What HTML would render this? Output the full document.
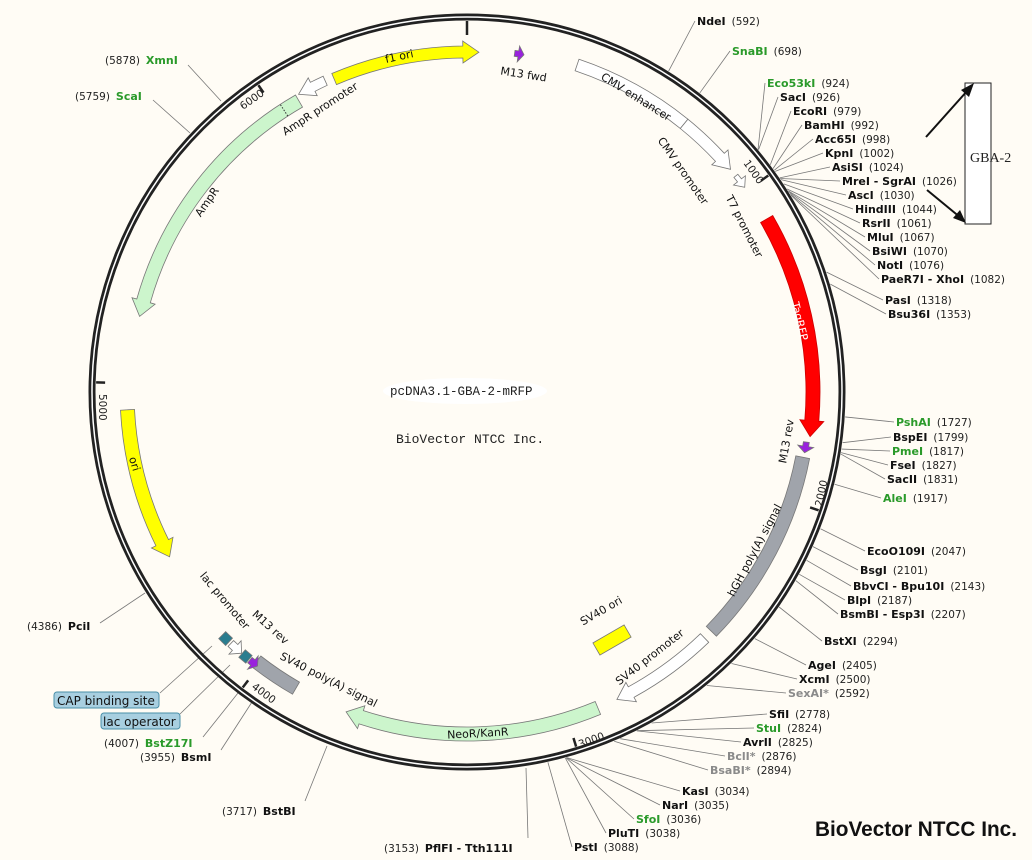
<!DOCTYPE html>
<html><head><meta charset="utf-8"><style>
html,body{margin:0;padding:0;background:#fffcf5;}
svg{display:block;}
.f{font-family:"DejaVu Sans","Liberation Sans",sans-serif;font-size:11px;fill:#111;}
.n{font-family:"DejaVu Sans","Liberation Sans",sans-serif;font-size:11px;font-weight:bold;fill:#111;}
.g{fill:#2a9a2a;}
.gy{fill:#8a8a8a;}
.p{font-family:"DejaVu Sans","Liberation Sans",sans-serif;font-size:10.5px;fill:#222;}
.fl{font-family:"DejaVu Sans","Liberation Sans",sans-serif;font-size:11px;fill:#111;}
</style></head><body>
<svg id="s" width="1032" height="860" viewBox="0 0 1032 860" xmlns="http://www.w3.org/2000/svg">
<rect width="1032" height="860" fill="#fffcf5"/>
<g id="lines" stroke="#777" stroke-width="0.8" fill="none">
<line x1="188" y1="65" x2="221" y2="101"/>
<line x1="153" y1="100" x2="190" y2="133"/>
<line x1="100" y1="623" x2="145" y2="593"/>
<line x1="203" y1="737" x2="238" y2="693"/>
<line x1="221" y1="750" x2="252" y2="702"/>
<line x1="305" y1="801" x2="327" y2="746"/>
<line x1="528" y1="838" x2="526" y2="768"/>
<line x1="160" y1="693" x2="212" y2="646"/>
<line x1="180" y1="714" x2="230" y2="665"/>
</g>
<g id="feat"></g>
<circle cx="467" cy="392" r="375" fill="none" stroke="#222" stroke-width="7"/>
<circle cx="467" cy="392" r="375" fill="none" stroke="#fff" stroke-width="1.5"/>
<g id="ticks" stroke="#222" stroke-width="2.5"></g>

<rect x="965" y="83" width="26" height="141" fill="#fff" stroke="#222" stroke-width="1"/>
<text x="970" y="162" font-family="Liberation Serif,serif" font-size="14" fill="#222">GBA-2</text>
<line x1="926" y1="137" x2="968" y2="90" stroke="#111" stroke-width="2"/>
<polygon points="974,83 961,90 969,97" fill="#111"/>
<line x1="927" y1="190" x2="961" y2="218" stroke="#111" stroke-width="2"/>
<polygon points="966,223 953,218 960,210" fill="#111"/>

<ellipse cx="465" cy="391" rx="82" ry="13" fill="#fff"/>
<text x="390" y="395" font-family="Liberation Mono,monospace" font-size="12.5" fill="#222">pcDNA3.1-GBA-2-mRFP</text>
<text x="396" y="443" font-family="Liberation Mono,monospace" font-size="13" fill="#222">BioVector NTCC Inc.</text>
<text x="815" y="836" font-family="Liberation Sans,sans-serif" font-size="21" font-weight="bold" fill="#111" textLength="202" lengthAdjust="spacingAndGlyphs">BioVector NTCC Inc.</text>

<text class="fl" transform="translate(400,60) rotate(-12)" text-anchor="middle">f1 ori</text>
<text class="fl" transform="translate(523,78) rotate(9)" text-anchor="middle">M13 fwd</text>
<text class="fl" transform="translate(322,112) rotate(-33)" text-anchor="middle">AmpR promoter</text>
<text class="fl" transform="translate(210,204) rotate(-55)" text-anchor="middle">AmpR</text>
<text class="fl" transform="translate(131,465) rotate(73)" text-anchor="middle">ori</text>
<text class="fl" transform="translate(634,100) rotate(32)" text-anchor="middle">CMV enhancer</text>
<text class="fl" transform="translate(680,173) rotate(55)" text-anchor="middle">CMV promoter</text>
<text class="fl" transform="translate(741,228) rotate(63)" text-anchor="middle">T7 promoter</text>
<text class="fl" transform="translate(796,322) rotate(76)" text-anchor="middle" style="fill:#fff">TagRFP</text>
<text class="fl" transform="translate(790,442) rotate(-80)" text-anchor="middle">M13 rev</text>
<text class="fl" transform="translate(758,552) rotate(-62)" text-anchor="middle">hGH poly(A) signal</text>
<text class="fl" transform="translate(603,614) rotate(-30)" text-anchor="middle">SV40 ori</text>
<text class="fl" transform="translate(652,660) rotate(-38)" text-anchor="middle">SV40 promoter</text>
<text class="fl" transform="translate(478,737) rotate(-3)" text-anchor="middle">NeoR/KanR</text>
<text class="fl" transform="translate(327,683) rotate(27)" text-anchor="middle">SV40 poly(A) signal</text>
<text class="fl" transform="translate(222,603) rotate(50)" text-anchor="middle">lac promoter</text>
<text class="fl" transform="translate(268,630) rotate(42)" text-anchor="middle">M13 rev</text>
<text class="p" transform="translate(251,688) rotate(37)" >4000</text>
<text class="p" transform="translate(580,748) rotate(-20)" >3000</text>
<text class="p" transform="translate(822,507) rotate(-78)" >2000</text>
<text class="p" transform="translate(743,163) rotate(55)" >1000</text>
<text class="p" transform="translate(99,394) rotate(90)" >5000</text>
<text class="p" transform="translate(243,110) rotate(-35)" >6000</text>

<rect x="54" y="692" width="105" height="16" rx="3" fill="#a8cfe0" stroke="#4a8fa8"/>
<text class="f" x="57" y="705" style="font-size:12px">CAP binding site</text>
<rect x="101" y="713" width="79" height="16" rx="3" fill="#a8cfe0" stroke="#4a8fa8"/>
<text class="f" x="103" y="726" style="font-size:12px">lac operator</text>

<text x="105" y="64"><tspan class="p">(5878)</tspan><tspan class="n g" dx="6">XmnI</tspan></text>
<text x="75" y="100"><tspan class="p">(5759)</tspan><tspan class="n g" dx="6">ScaI</tspan></text>
<text x="27" y="630"><tspan class="p">(4386)</tspan><tspan class="n" dx="6">PciI</tspan></text>
<text x="104" y="747"><tspan class="p">(4007)</tspan><tspan class="n g" dx="6">BstZ17I</tspan></text>
<text x="140" y="761"><tspan class="p">(3955)</tspan><tspan class="n" dx="6">BsmI</tspan></text>
<text x="222" y="815"><tspan class="p">(3717)</tspan><tspan class="n" dx="6">BstBI</tspan></text>
<text x="384" y="852"><tspan class="p">(3153)</tspan><tspan class="n" dx="6">PflFI - Tth111I</tspan></text>

<g id="rs">
<text x="697" y="25"><tspan class="n">NdeI</tspan><tspan class="p" dx="6">(592)</tspan></text>
<text x="732" y="55"><tspan class="n g">SnaBI</tspan><tspan class="p" dx="6">(698)</tspan></text>
<text x="767" y="87"><tspan class="n g">Eco53kI</tspan><tspan class="p" dx="6">(924)</tspan></text>
<text x="780" y="101"><tspan class="n">SacI</tspan><tspan class="p" dx="6">(926)</tspan></text>
<text x="793" y="115"><tspan class="n">EcoRI</tspan><tspan class="p" dx="6">(979)</tspan></text>
<text x="804" y="129"><tspan class="n">BamHI</tspan><tspan class="p" dx="6">(992)</tspan></text>
<text x="815" y="143"><tspan class="n">Acc65I</tspan><tspan class="p" dx="6">(998)</tspan></text>
<text x="825" y="157"><tspan class="n">KpnI</tspan><tspan class="p" dx="6">(1002)</tspan></text>
<text x="832" y="171"><tspan class="n">AsiSI</tspan><tspan class="p" dx="6">(1024)</tspan></text>
<text x="842" y="185"><tspan class="n">MreI - SgrAI</tspan><tspan class="p" dx="6">(1026)</tspan></text>
<text x="848" y="199"><tspan class="n">AscI</tspan><tspan class="p" dx="6">(1030)</tspan></text>
<text x="855" y="213"><tspan class="n">HindIII</tspan><tspan class="p" dx="6">(1044)</tspan></text>
<text x="862" y="227"><tspan class="n">RsrII</tspan><tspan class="p" dx="6">(1061)</tspan></text>
<text x="867" y="241"><tspan class="n">MluI</tspan><tspan class="p" dx="6">(1067)</tspan></text>
<text x="872" y="255"><tspan class="n">BsiWI</tspan><tspan class="p" dx="6">(1070)</tspan></text>
<text x="877" y="269"><tspan class="n">NotI</tspan><tspan class="p" dx="6">(1076)</tspan></text>
<text x="881" y="283"><tspan class="n">PaeR7I - XhoI</tspan><tspan class="p" dx="6">(1082)</tspan></text>
<text x="885" y="304"><tspan class="n">PasI</tspan><tspan class="p" dx="6">(1318)</tspan></text>
<text x="888" y="318"><tspan class="n">Bsu36I</tspan><tspan class="p" dx="6">(1353)</tspan></text>
<text x="896" y="426"><tspan class="n g">PshAI</tspan><tspan class="p" dx="6">(1727)</tspan></text>
<text x="893" y="441"><tspan class="n">BspEI</tspan><tspan class="p" dx="6">(1799)</tspan></text>
<text x="892" y="455"><tspan class="n g">PmeI</tspan><tspan class="p" dx="6">(1817)</tspan></text>
<text x="890" y="469"><tspan class="n">FseI</tspan><tspan class="p" dx="6">(1827)</tspan></text>
<text x="887" y="483"><tspan class="n">SacII</tspan><tspan class="p" dx="6">(1831)</tspan></text>
<text x="883" y="502"><tspan class="n g">AleI</tspan><tspan class="p" dx="6">(1917)</tspan></text>
<text x="867" y="555"><tspan class="n">EcoO109I</tspan><tspan class="p" dx="6">(2047)</tspan></text>
<text x="860" y="574"><tspan class="n">BsgI</tspan><tspan class="p" dx="6">(2101)</tspan></text>
<text x="853" y="590"><tspan class="n">BbvCI - Bpu10I</tspan><tspan class="p" dx="6">(2143)</tspan></text>
<text x="847" y="604"><tspan class="n">BlpI</tspan><tspan class="p" dx="6">(2187)</tspan></text>
<text x="840" y="618"><tspan class="n">BsmBI - Esp3I</tspan><tspan class="p" dx="6">(2207)</tspan></text>
<text x="824" y="645"><tspan class="n">BstXI</tspan><tspan class="p" dx="6">(2294)</tspan></text>
<text x="808" y="669"><tspan class="n">AgeI</tspan><tspan class="p" dx="6">(2405)</tspan></text>
<text x="799" y="683"><tspan class="n">XcmI</tspan><tspan class="p" dx="6">(2500)</tspan></text>
<text x="788" y="697"><tspan class="n gy">SexAI*</tspan><tspan class="p" dx="6">(2592)</tspan></text>
<text x="769" y="718"><tspan class="n">SfiI</tspan><tspan class="p" dx="6">(2778)</tspan></text>
<text x="756" y="732"><tspan class="n g">StuI</tspan><tspan class="p" dx="6">(2824)</tspan></text>
<text x="743" y="746"><tspan class="n">AvrII</tspan><tspan class="p" dx="6">(2825)</tspan></text>
<text x="727" y="760"><tspan class="n gy">BclI*</tspan><tspan class="p" dx="6">(2876)</tspan></text>
<text x="710" y="774"><tspan class="n gy">BsaBI*</tspan><tspan class="p" dx="6">(2894)</tspan></text>
<text x="682" y="795"><tspan class="n">KasI</tspan><tspan class="p" dx="6">(3034)</tspan></text>
<text x="662" y="809"><tspan class="n">NarI</tspan><tspan class="p" dx="6">(3035)</tspan></text>
<text x="636" y="823"><tspan class="n g">SfoI</tspan><tspan class="p" dx="6">(3036)</tspan></text>
<text x="608" y="837"><tspan class="n">PluTI</tspan><tspan class="p" dx="6">(3038)</tspan></text>
<text x="574" y="851"><tspan class="n">PstI</tspan><tspan class="p" dx="6">(3088)</tspan></text>
</g>
</svg>
<script>
(function(){
var NS="http://www.w3.org/2000/svg",cx=467,cy=392,L=6630;
function P(a,r){var t=a*Math.PI/180;return [cx+r*Math.sin(t),cy-r*Math.cos(t)];}
function f(p){return p[0].toFixed(1)+","+p[1].toFixed(1);}
function el(tag,attrs,parent){var e=document.createElementNS(NS,tag);for(var k in attrs)e.setAttribute(k,attrs[k]);parent.appendChild(e);return e;}
var feat=document.getElementById("feat"),lines=document.getElementById("lines"),ticks=document.getElementById("ticks");
function arrow(a1,a2,r,w,fill,head,stroke){
 var d=a2>a1?1:-1,ro=r+w/2,ri=r-w/2,hd=head?Math.min(16/r*180/Math.PI,Math.abs(a2-a1)*0.6):0;
 var ab=a2-d*hd,sw=d>0?1:0,sw2=d>0?0:1,lg=Math.abs(ab-a1)>180?1:0,hw=head?5:0;
 var s="M"+f(P(a1,ro))+" A"+ro+","+ro+" 0 "+lg+" "+sw+" "+f(P(ab,ro));
 if(head){s+=" L"+f(P(ab,ro+hw))+" L"+f(P(a2,r))+" L"+f(P(ab,ri-hw))+" L"+f(P(ab,ri));}
 else{s+=" L"+f(P(a2,ro))+" L"+f(P(a2,ri))+" L"+f(P(ab,ri));}
 s+=" A"+ri+","+ri+" 0 "+lg+" "+sw2+" "+f(P(a1,ri))+" Z";
 el("path",{d:s,fill:fill,stroke:stroke||"#777","stroke-width":0.8},feat);
}
arrow(-23,2,340,12,"#ffff00",1);
arrow(-24.5,-29.5,342,10,"#ffffff",1);
arrow(-30,-77,336,14,"#ccf5cc",1);
arrow(-93,-119,340,14,"#ffff00",1);
arrow(157.5,200.7,342,14,"#ccf5cc",1);
arrow(136,154,342,12,"#ffffff",1);
arrow(101,134.4,342,14,"#a0a4ab",0);
arrow(60,97.4,346,14,"#ff0000",1,"#c00");
arrow(18.6,39,345,12,"#ffffff",0);
arrow(39,49.8,345,12,"#ffffff",1);
arrow(51.2,53.6,345,5,"#ffffff",1);
arrow(8,9.6,342,6,"#9922dd",1);
arrow(98.4,100.2,343,6,"#9922dd",1);
arrow(-142,-150,342,14,"#a0a4ab",0);
arrow(-134.8,-136.4,345,10,"#2a7d8f",0);
arrow(-136.8,-139.2,345,8,"#ffffff",1);
arrow(-139.3,-140.8,345,10,"#2a7d8f",0);
arrow(-141,-142.6,345,7,"#9922dd",1);
el("rect",{x:-18,y:-7,width:36,height:14,fill:"#ffff00",stroke:"#777","stroke-width":0.8,transform:"translate(612,640) rotate(-30)"},feat);
var d1=P(-33,329),d2=P(-33,343);
el("line",{x1:d1[0],y1:d1[1],x2:d2[0],y2:d2[1],stroke:"#333","stroke-dasharray":"1.5,1.5","stroke-width":1},feat);
[0,1000,2000,3000,4000,5000,6000].forEach(function(n){var a=n/L*360,p1=P(a,371),p2=P(a,n==0?357:362);
 el("line",{x1:p1[0],y1:p1[1],x2:p2[0],y2:p2[1]},ticks);});
var sites=[[697,25,592],[732,55,698],[767,87,924],[780,101,926],[793,115,979],[804,129,992],[815,143,998],[825,157,1002],[832,171,1024],[842,185,1026],[848,199,1030],[855,213,1044],[862,227,1061],[867,241,1067],[872,255,1070],[877,269,1076],[881,283,1082],[885,304,1318],[888,318,1353],[896,426,1727],[893,441,1799],[892,455,1817],[890,469,1827],[887,483,1831],[883,502,1917],[867,555,2047],[860,574,2101],[853,590,2143],[847,604,2187],[840,618,2207],[824,645,2294],[808,669,2405],[799,683,2500],[788,697,2592],[769,718,2778],[756,732,2824],[743,746,2825],[727,760,2876],[710,774,2894],[682,795,3034],[662,809,3035],[636,823,3036],[608,837,3038],[574,851,3088]];
sites.forEach(function(s){var a=s[2]/L*360,p=P(a,379);
 el("line",{x1:s[0]-2,y1:s[1]-4,x2:p[0],y2:p[1]},lines);});
})();
</script>
</body></html>
